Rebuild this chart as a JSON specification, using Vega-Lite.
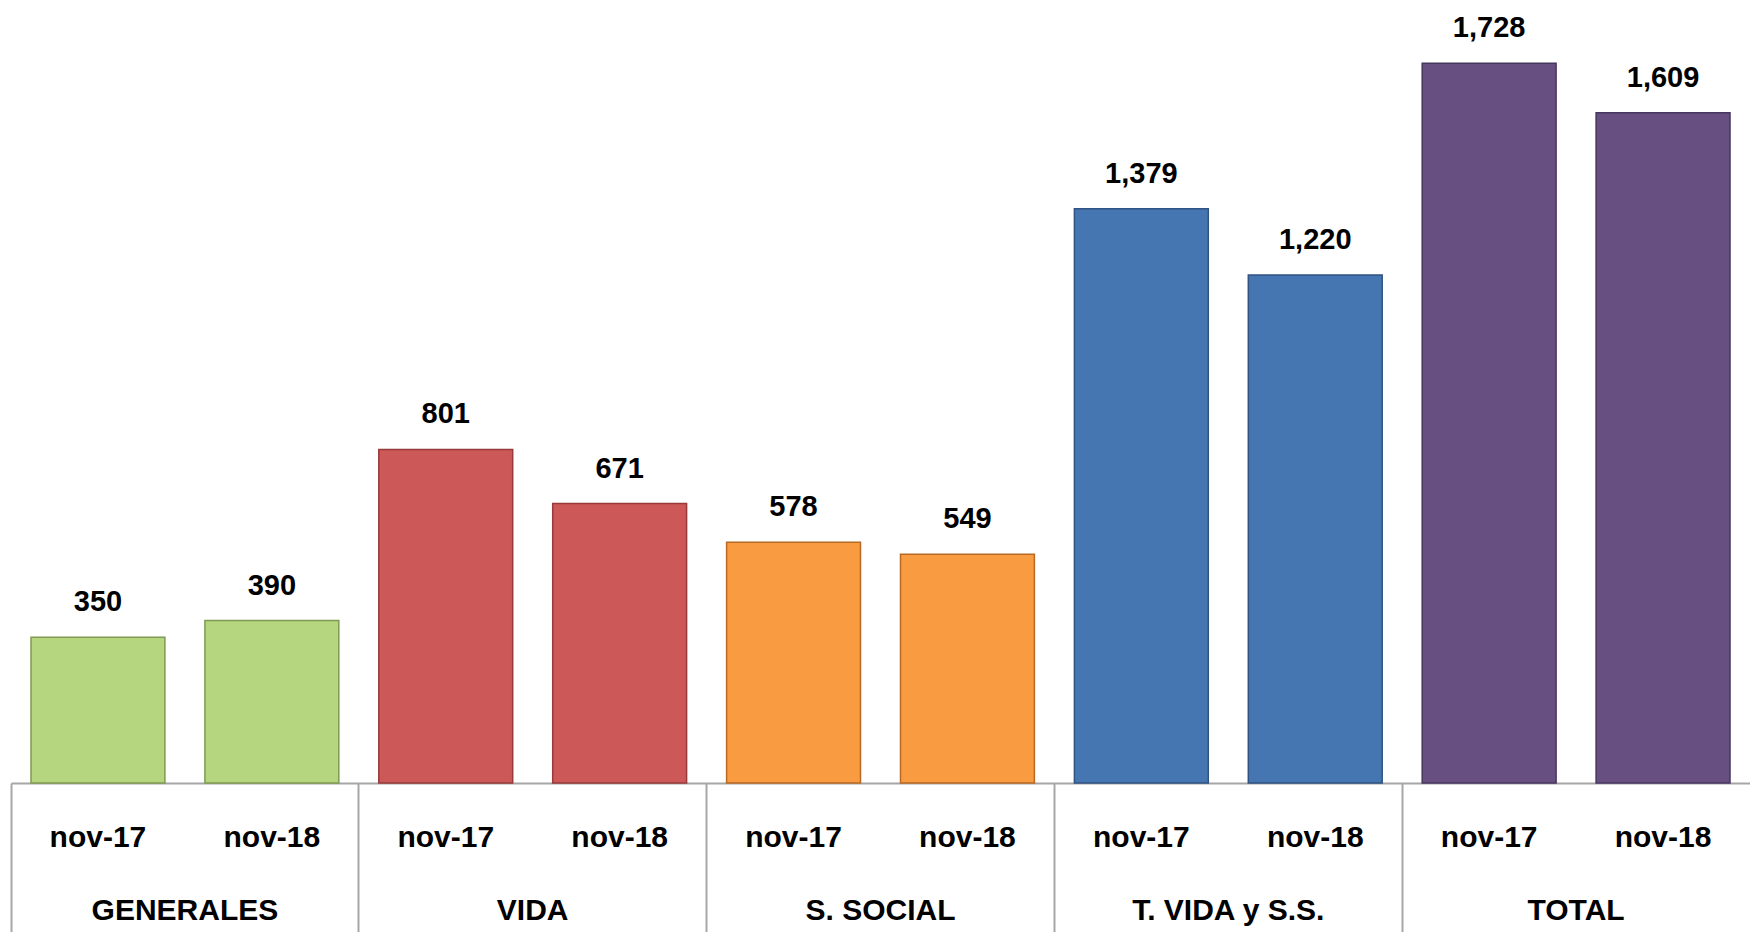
{
  "$schema": "https://vega.github.io/schema/vega-lite/v6.json",
  "description": "Comparativo nov-17 / nov-18 por ramo",
  "autosize": "none",
  "padding": {"left": 11, "top": 0, "right": 0, "bottom": 149},
  "width": 1739,
  "height": 783,
  "background": "white",
  "config": {"view": {"stroke": null}, "font": "Liberation Sans"},
  "datasets": {
    "ventas": [
      {"grupo": "GENERALES", "periodo": "nov-17", "clave": "GENERALES|nov-17", "valor": 350},
      {"grupo": "GENERALES", "periodo": "nov-18", "clave": "GENERALES|nov-18", "valor": 390},
      {"grupo": "VIDA", "periodo": "nov-17", "clave": "VIDA|nov-17", "valor": 801},
      {"grupo": "VIDA", "periodo": "nov-18", "clave": "VIDA|nov-18", "valor": 671},
      {"grupo": "S. SOCIAL", "periodo": "nov-17", "clave": "S. SOCIAL|nov-17", "valor": 578},
      {"grupo": "S. SOCIAL", "periodo": "nov-18", "clave": "S. SOCIAL|nov-18", "valor": 549},
      {"grupo": "T. VIDA y S.S.", "periodo": "nov-17", "clave": "T. VIDA y S.S.|nov-17", "valor": 1379},
      {"grupo": "T. VIDA y S.S.", "periodo": "nov-18", "clave": "T. VIDA y S.S.|nov-18", "valor": 1220},
      {"grupo": "TOTAL", "periodo": "nov-17", "clave": "TOTAL|nov-17", "valor": 1728},
      {"grupo": "TOTAL", "periodo": "nov-18", "clave": "TOTAL|nov-18", "valor": 1609}
    ],
    "grupos": [
      {"grupo": "GENERALES"},
      {"grupo": "VIDA"},
      {"grupo": "S. SOCIAL"},
      {"grupo": "T. VIDA y S.S."},
      {"grupo": "TOTAL"}
    ]
  },
  "layer": [
    {
      "data": {"name": "ventas"},
      "encoding": {
        "x": {
          "field": "clave",
          "type": "nominal",
          "sort": null,
          "scale": {"paddingInner": 0.23, "paddingOuter": 0.115},
          "axis": {
            "orient": "bottom",
            "title": null,
            "labelExpr": "split(datum.label, '|')[1]",
            "ticks": false,
            "domainColor": "#a6a6a6",
            "domainWidth": 2,
            "labelAngle": 0,
            "labelPadding": 54,
            "labelBaseline": "middle",
            "labelFont": "Liberation Sans",
            "labelFontSize": 30,
            "labelFontWeight": "bold",
            "labelColor": "black",
            "labelLimit": 400
          }
        },
        "y": {
          "field": "valor",
          "type": "quantitative",
          "scale": {"domain": [0, 1880], "nice": false},
          "axis": null
        }
      },
      "layer": [
        {
          "mark": {"type": "bar", "strokeWidth": 1.5},
          "encoding": {
            "fill": {
              "field": "grupo",
              "type": "nominal",
              "scale": {
                "domain": ["GENERALES", "VIDA", "S. SOCIAL", "T. VIDA y S.S.", "TOTAL"],
                "range": ["#b5d57f", "#cd5858", "#f99b41", "#4676b2", "#674f82"]
              },
              "legend": null
            },
            "stroke": {
              "field": "grupo",
              "type": "nominal",
              "scale": {
                "domain": ["GENERALES", "VIDA", "S. SOCIAL", "T. VIDA y S.S.", "TOTAL"],
                "range": ["#7f9a52", "#983a3a", "#b86a24", "#2f5283", "#47365e"]
              },
              "legend": null
            }
          }
        },
        {
          "mark": {
            "type": "text",
            "baseline": "middle",
            "dy": -35,
            "font": "Liberation Sans",
            "fontSize": 29,
            "fontWeight": "bold",
            "color": "black"
          },
          "encoding": {
            "text": {"field": "valor", "type": "quantitative", "format": ","}
          }
        }
      ]
    },
    {
      "data": {"name": "grupos"},
      "mark": {"type": "bar", "opacity": 0},
      "encoding": {
        "x": {
          "field": "grupo",
          "type": "nominal",
          "sort": null,
          "scale": {"paddingInner": 0, "paddingOuter": 0},
          "axis": {
            "orient": "bottom",
            "title": null,
            "labels": false,
            "domain": false,
            "ticks": true,
            "bandPosition": 0,
            "tickSize": 149,
            "tickColor": "#a6a6a6",
            "tickWidth": 2
          }
        }
      }
    },
    {
      "data": {"name": "grupos"},
      "mark": {"type": "bar", "opacity": 0},
      "encoding": {
        "x": {
          "field": "grupo",
          "type": "nominal",
          "sort": null,
          "scale": {"paddingInner": 0, "paddingOuter": 0},
          "axis": {
            "orient": "bottom",
            "title": null,
            "ticks": false,
            "domain": false,
            "labelAngle": 0,
            "labelPadding": 127,
            "labelBaseline": "middle",
            "labelFont": "Liberation Sans",
            "labelFontSize": 30,
            "labelFontWeight": "bold",
            "labelColor": "black",
            "labelLimit": 400
          }
        }
      }
    }
  ],
  "resolve": {"scale": {"x": "independent"}, "axis": {"x": "independent"}}
}
